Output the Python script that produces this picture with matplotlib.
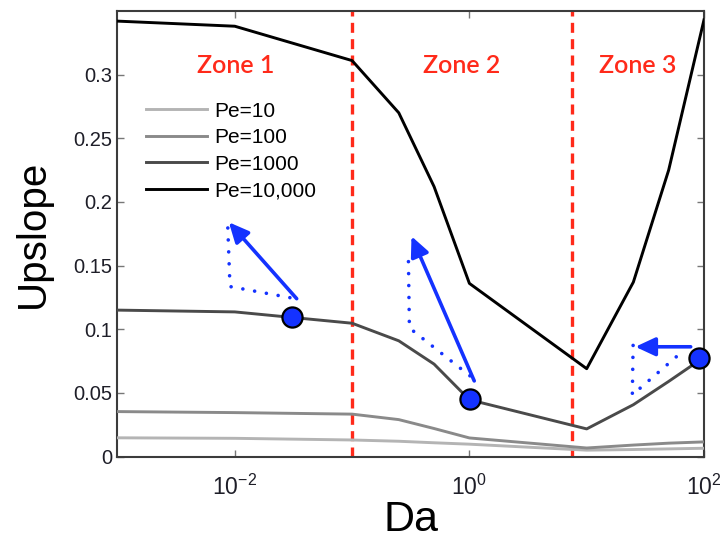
import matplotlib
matplotlib.use("Agg")
import matplotlib.pyplot as plt
from matplotlib.ticker import FixedLocator, FixedFormatter, NullLocator

plt.rcParams['font.family'] = ['Liberation Sans', 'DejaVu Sans']
plt.rcParams['mathtext.fontset'] = 'custom'
plt.rcParams['mathtext.rm'] = 'Liberation Sans'
plt.rcParams['mathtext.it'] = 'Liberation Sans:italic'

# ---- data ----
da = [1e-3, 1e-2, 0.1, 0.25, 0.5, 1, 10, 25, 50, 100]
pe10 = [0.0147, 0.0143, 0.0130, 0.0120, 0.0108, 0.0097, 0.0050, 0.0055, 0.0060, 0.0065]
pe100 = [0.0353, 0.0345, 0.0333, 0.0290, 0.0220, 0.0146, 0.0067, 0.0090, 0.0105, 0.0115]
pe1000 = [0.1150, 0.1136, 0.1047, 0.0909, 0.0726, 0.0446, 0.0217, 0.0407, 0.0590, 0.0780]
pe10000 = [0.342, 0.338, 0.311, 0.270, 0.212, 0.136, 0.069, 0.137, 0.225, 0.343]
series_labels = ['Pe=10', 'Pe=100', 'Pe=1000', 'Pe=10,000']

zone_bounds = [0.1, 7.5]
zone_labels = ['Zone 1', 'Zone 2', 'Zone 3']
zone_label_da = [0.0102, 0.86, 27]
zone_label_up = [0.301, 0.301, 0.301]

marker_da = [0.031, 1.02, 90]
marker_up = [0.1095, 0.0450, 0.0775]

arrow_tail_da = [0.0337, 1.10, 77]
arrow_tail_up = [0.124, 0.0594, 0.0862]
arrow_head_da = [0.0089, 0.321, 26]
arrow_head_up = [0.184, 0.173, 0.0862]

dot_da = [[0.0295, 0.0091, 0.0087], [1.01, 0.308, 0.302], [58, 24.5, 24.9]]
dot_up = [[0.1248, 0.1335, 0.182], [0.0634, 0.101, 0.156], [0.0783, 0.0484, 0.090]]

xticks = [1e-2, 1, 1e2]
xticklabels = [r'$10^{-2}$', r'$10^{0}$', r'$10^{2}$']
yticks = [0, 0.05, 0.1, 0.15, 0.2, 0.25, 0.3]
yticklabels = ['0', '0.05', '0.1', '0.15', '0.2', '0.25', '0.3']

# ---- figure ----
fig = plt.figure(figsize=(7.23, 5.47), dpi=100)
ax = fig.add_axes([0.1625, 0.1654, 0.8112, 0.8146])

colors = ['#b4b4b4', '#8a8a8a', '#4a4a4a', '#000000']
for vals, lab, c in zip([pe10, pe100, pe1000, pe10000], series_labels, colors):
    ax.plot(da, vals, color=c, lw=2.1, label=lab, zorder=3)

blue = '#1432ff'
red = '#ff2a1a'

for b in zone_bounds:
    ax.axvline(b, color=red, lw=2.4, dashes=(3.0, 1.9), zorder=2)

for t, x, y in zip(zone_labels, zone_label_da, zone_label_up):
    ax.text(x, y, t, color=red, fontsize=18, family=['Lato', 'DejaVu Sans'],
            fontweight=600, ha='center', va='baseline')

for xs, ys in zip(dot_da, dot_up):
    ax.plot(xs, ys, color=blue, lw=2.6, linestyle=(0, (0.01, 3.3)),
            dash_capstyle='round', zorder=4)

for tx, ty, hx, hy in zip(arrow_tail_da, arrow_tail_up, arrow_head_da, arrow_head_up):
    ax.annotate('', xy=(hx, hy), xytext=(tx, ty),
                arrowprops=dict(arrowstyle='-|>,head_length=0.6,head_width=0.28',
                                color=blue, lw=2.6, mutation_scale=20,
                                shrinkA=0, shrinkB=0), zorder=5)

ax.plot(marker_da, marker_up, linestyle='none', marker='o', markersize=14.5,
        markerfacecolor=blue, markeredgecolor='black', markeredgewidth=1.6,
        zorder=6, clip_on=False)

ax.set_xscale('log')
ax.set_xlim(1e-3, 1e2)
ax.set_ylim(0, 0.35)
ax.xaxis.set_major_locator(FixedLocator(xticks))
ax.xaxis.set_major_formatter(FixedFormatter(xticklabels))
ax.xaxis.set_minor_locator(NullLocator())
ax.set_yticks(yticks)
ax.set_yticklabels(yticklabels)

ax.tick_params(direction='in', length=5, width=1.0, top=True, right=True,
               colors='#777777', labelcolor='#1e1e28', labelsize=14.5)
ax.tick_params(axis='x', pad=13, labelsize=16.5)
ax.tick_params(axis='y', pad=4)
for s in ax.spines.values():
    s.set_color('#3c3c3c')
    s.set_linewidth(1.5)

ax.set_xlabel('Da', fontsize=31, labelpad=0)
ax.set_ylabel('Upslope', fontsize=29, labelpad=15)

ax.legend(loc='upper left', bbox_to_anchor=(0.035, 0.815), frameon=False,
          fontsize=15, handlelength=2.9, handletextpad=0.35, labelspacing=0.36,
          borderaxespad=0)

fig.savefig('out.png', dpi=100)
